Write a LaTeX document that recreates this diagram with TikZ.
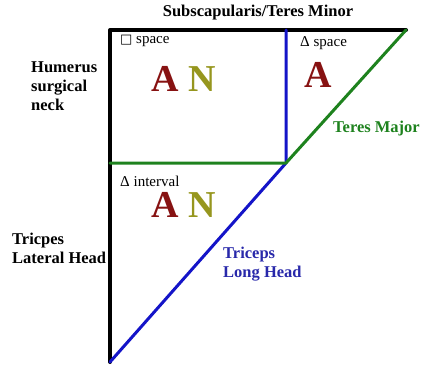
\documentclass[tikz,border=0pt]{standalone}
\usepackage{fontspec}
\setmainfont{Liberation Serif}
\newfontfamily\symfont{DejaVu Sans}
\usepackage{tikz}
\usetikzlibrary{positioning}
\definecolor{ared}{RGB}{135,18,18}
\definecolor{nolive}{RGB}{150,150,30}
\definecolor{lblue}{RGB}{20,20,200}
\definecolor{tblue}{RGB}{40,40,170}
\definecolor{lgreen}{RGB}{30,130,30}

\begin{document}
\begin{tikzpicture}[x=1pt, y=-1pt,
  lbl/.style={font=\bfseries\fontsize{16.5}{19}\selectfont, align=left, inner sep=0pt},
  note/.style={font=\fontsize{15}{17}\selectfont, inner sep=0pt},
  big/.style={font=\bfseries\fontsize{38}{40}\selectfont, inner sep=0pt},
  ln/.style={line width=#1, line cap=round, line join=round}]
\useasboundingbox (0,0) rectangle (422,368);
% corners of the triangle
\coordinate (tl) at (110,30);
\coordinate (tr) at (406,30);
\coordinate (bl) at (110,362);
\coordinate (mid) at (286,163);
\coordinate (midtop) at (286,30);
\coordinate (midleft) at (110,163);
\draw[ln=4pt, black] (bl) -- (tl) -- (tr);
\draw[ln=3pt, lblue] (midtop) -- (mid) -- (bl);
\draw[ln=3pt, lgreen] (midleft) -- (mid) -- (tr);
% labels
\node[lbl] (sub) at (258,13) {Subscapularis/Teres Minor};
\node[lbl, anchor=north west] (hum) at (31,61) {Humerus\\surgical\\neck};
\node[lbl, anchor=north west] (lat) at (12,233) {Tricpes\\Lateral Head};
\node[lbl, anchor=north west, text=tblue] (lng) at (223,247) {Triceps\\Long Head};
\node[lbl, anchor=west, text=lgreen] (tmaj) at (333,129) {Teres Major};
% boxes
\node[note, anchor=west] (sq) at (120,41) {{\symfont\fontsize{13}{15}\selectfont □} space};
\node[note, anchor=west] (tsp) at (300,43) {Δ space};
\node[note, anchor=west] (tint) at (120,181) {Δ interval};
\node[big] (an1) at (184,79) {\textcolor{ared}{A} \textcolor{nolive}{N}};
\node[big, text=ared] (a2) at (318,75) {A};
\node[big] (an3) at (184,205) {\textcolor{ared}{A} \textcolor{nolive}{N}};
\end{tikzpicture}
\end{document}
